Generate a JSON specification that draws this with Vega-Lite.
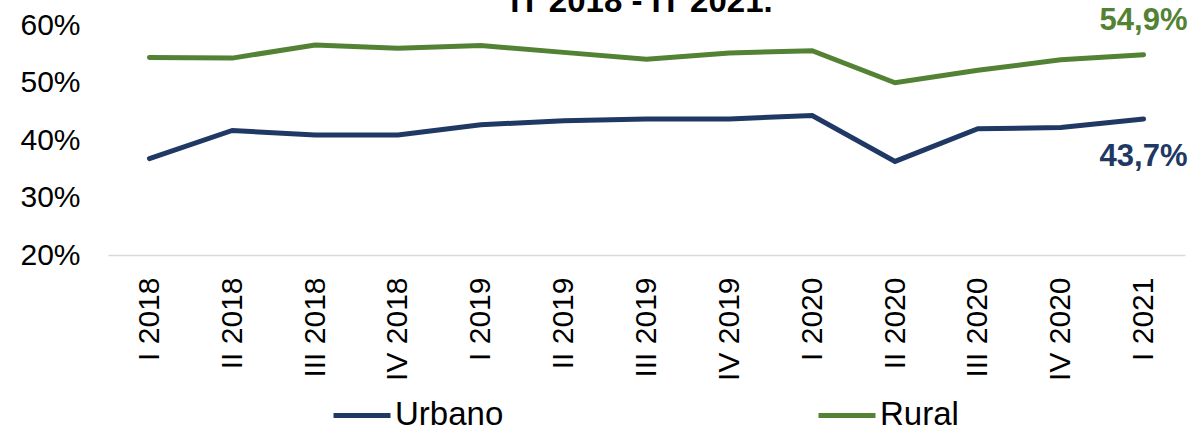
{
  "$schema": "https://vega.github.io/schema/vega-lite/v6.json",
  "autosize": "none",
  "width": 1077,
  "height": 229.6,
  "padding": {"left": 108, "top": 25.4, "right": 8, "bottom": 171},
  "background": "#ffffff",
  "title": {"text": "IT 2018 - IT 2021.", "font": "Liberation Sans", "fontSize": 33, "fontWeight": "bold", "color": "#000000", "anchor": "middle", "frame": "group", "baseline": "alphabetic", "offset": 0, "dx": -5, "dy": 40},
  "config": {
    "view": {"stroke": null},
    "locale": {"number": {"decimal": ",", "thousands": ".", "grouping": [3], "currency": ["", " €"]}},
    "font": "Liberation Sans"
  },
  "data": {"values": [
    {"q": "I 2018", "zona": "Urbano", "v": 0.368},
    {"q": "II 2018", "zona": "Urbano", "v": 0.417},
    {"q": "III 2018", "zona": "Urbano", "v": 0.409},
    {"q": "IV 2018", "zona": "Urbano", "v": 0.409},
    {"q": "I 2019", "zona": "Urbano", "v": 0.427},
    {"q": "II 2019", "zona": "Urbano", "v": 0.434},
    {"q": "III 2019", "zona": "Urbano", "v": 0.437},
    {"q": "IV 2019", "zona": "Urbano", "v": 0.437},
    {"q": "I 2020", "zona": "Urbano", "v": 0.443},
    {"q": "II 2020", "zona": "Urbano", "v": 0.363},
    {"q": "III 2020", "zona": "Urbano", "v": 0.420},
    {"q": "IV 2020", "zona": "Urbano", "v": 0.422},
    {"q": "I 2021", "zona": "Urbano", "v": 0.437},
    {"q": "I 2018", "zona": "Rural", "v": 0.544},
    {"q": "II 2018", "zona": "Rural", "v": 0.543},
    {"q": "III 2018", "zona": "Rural", "v": 0.566},
    {"q": "IV 2018", "zona": "Rural", "v": 0.560},
    {"q": "I 2019", "zona": "Rural", "v": 0.565},
    {"q": "II 2019", "zona": "Rural", "v": 0.553},
    {"q": "III 2019", "zona": "Rural", "v": 0.541},
    {"q": "IV 2019", "zona": "Rural", "v": 0.552},
    {"q": "I 2020", "zona": "Rural", "v": 0.556},
    {"q": "II 2020", "zona": "Rural", "v": 0.500},
    {"q": "III 2020", "zona": "Rural", "v": 0.522},
    {"q": "IV 2020", "zona": "Rural", "v": 0.540},
    {"q": "I 2021", "zona": "Rural", "v": 0.549}
  ]},
  "encoding": {
    "x": {"field": "q", "type": "nominal", "sort": null,
      "scale": {"type": "point", "padding": 0.5},
      "axis": {"title": null, "labelAngle": 270, "labelAlign": "right", "labelBaseline": "middle", "labelFontSize": 30, "labelFont": "Liberation Sans", "labelColor": "#000000", "ticks": false, "tickSize": 0, "labelPadding": 22, "domainColor": "#d9d9d9", "domainWidth": 1.5, "grid": false}},
    "y": {"field": "v", "type": "quantitative",
      "scale": {"domain": [0.2, 0.6], "nice": false, "zero": false},
      "axis": {"title": null, "values": [0.2, 0.3, 0.4, 0.5, 0.6], "format": ".0%", "labelFontSize": 30, "labelFont": "Liberation Sans", "labelColor": "#000000", "domain": false, "ticks": false, "tickSize": 0, "grid": false, "labelPadding": 28}}
  },
  "layer": [
    {
      "mark": {"type": "line", "strokeWidth": 5, "strokeCap": "round", "strokeJoin": "miter"},
      "encoding": {
        "color": {"field": "zona", "type": "nominal",
          "scale": {"domain": ["Urbano", "Rural"], "range": ["#203864", "#548235"]},
          "legend": {"title": null, "orient": "none", "direction": "horizontal", "legendX": 223, "legendY": 359, "symbolType": "stroke", "symbolSize": 3249, "symbolStrokeWidth": 5, "labelFontSize": 33, "labelFont": "Liberation Sans", "labelColor": "#000000", "labelOffset": 2, "columnPadding": 304}}
      }
    },
    {
      "transform": [{"filter": "datum.q == 'I 2021' && datum.zona == 'Rural'"}],
      "mark": {"type": "text", "font": "Liberation Sans", "fontSize": 31, "fontWeight": "bold", "color": "#548235", "align": "center", "baseline": "alphabetic", "dy": -25},
      "encoding": {"text": {"field": "v", "type": "quantitative", "format": ".1%"}}
    },
    {
      "transform": [{"filter": "datum.q == 'I 2021' && datum.zona == 'Urbano'"}],
      "mark": {"type": "text", "font": "Liberation Sans", "fontSize": 31, "fontWeight": "bold", "color": "#203864", "align": "center", "baseline": "alphabetic", "dy": 47},
      "encoding": {"text": {"field": "v", "type": "quantitative", "format": ".1%"}}
    }
  ]
}
